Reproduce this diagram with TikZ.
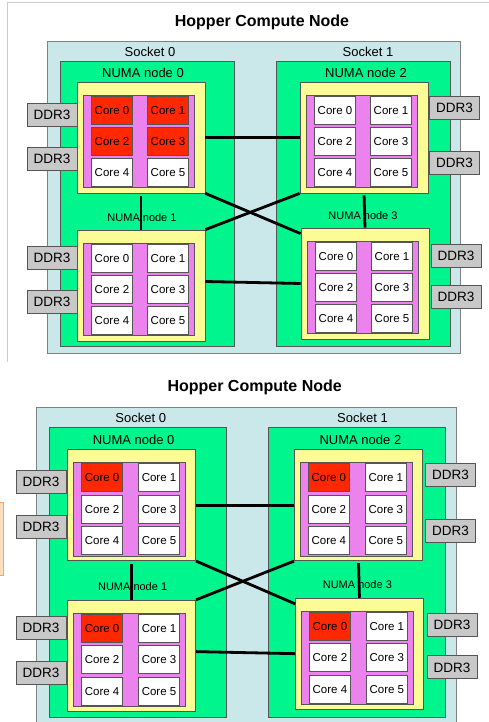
\documentclass[tikz,border=0pt]{standalone}
\usepackage{fontspec}
\setmainfont{Liberation Sans}

\definecolor{socketblue}{RGB}{202,231,234}
\definecolor{numagreen}{RGB}{0,246,140}
\definecolor{chipyellow}{RGB}{252,252,150}
\definecolor{corepink}{RGB}{236,130,238}
\definecolor{corered}{RGB}{255,40,0}
\definecolor{ddrgray}{RGB}{200,200,200}
\definecolor{edgegray}{RGB}{85,85,85}

\tikzset{
  box/.style={draw=edgegray, line width=0.8pt},
  chip/.style={box, fill=chipyellow, minimum width=128pt, minimum height=111pt, inner sep=0pt},
  core/.style={draw=edgegray, line width=0.7pt, minimum width=41pt, minimum height=28pt,
    inner sep=0pt, font=\fontsize{11.5}{13}\selectfont},
  ddr/.style={box, fill=ddrgray, minimum width=50pt, minimum height=23pt, inner sep=0pt,
    font=\fontsize{13.5}{15}\selectfont},
  lbl/.style={font=\fontsize{13}{15}\selectfont},
  small lbl/.style={font=\fontsize{11}{13}\selectfont},
  link/.style={line width=2.8pt},
}

% #1 = red cores in NUMA node 0, #2 = red cores in the other NUMA nodes
\newcommand{\hopperdiagram}[2]{%
  \node[font=\bfseries\fontsize{16}{19}\selectfont] (title) at (215,-19) {Hopper Compute Node};
  \draw[box, draw=gray, fill=socketblue] (0,0) rectangle (413,312);
  \node[lbl] (s0) at (103,11) {Socket 0};
  \node[lbl] (s1) at (321,11) {Socket 1};
  \draw[box, fill=numagreen] (13,20) rectangle (187,305);
  \draw[box, fill=numagreen] (229,20) rectangle (403,305);
  \node[lbl] (l0) at (96,32) {NUMA node 0};
  \node[lbl] (l2) at (319,32) {NUMA node 2};
  \node[small lbl] (l1) at (95,177) {NUMA node 1};
  \node[small lbl] (l3) at (316,175) {NUMA node 3};
  % chips with six cores each
  \foreach \nx/\ny/\nn/\hot in {30/41/0/#1, 253/41/2/#2, 30/189/1/#2, 254/187/3/#2} {
    \node[chip] (n\nn) at ({\nx+64},{\ny+55.5}) {};
    \draw[fill=corepink, draw=edgegray, line width=0.6pt] ({\nx+6.5},{\ny+13.5}) rectangle ({\nx+117},{\ny+105.5});
    \foreach \c/\cx/\cy in {0/35/28.5, 1/91/28.5, 2/35/59.5, 3/91/59.5, 4/35/90.5, 5/91/90.5} {
      \ifnum\c<\hot\relax\def\corefill{corered}\else\def\corefill{white}\fi
      \node[core, fill=\corefill] (n\nn c\c) at ({\nx+\cx},{\ny+\cy}) {Core \c};
    }
  }
  % memory
  \node[ddr] (d0a) at (5,73.5) {DDR3};
  \node[ddr] (d0b) at (5,117.5) {DDR3};
  \node[ddr] (d1a) at (5,217) {DDR3};
  \node[ddr] (d1b) at (5,261) {DDR3};
  \node[ddr] (d2a) at (407.5,67) {DDR3};
  \node[ddr] (d2b) at (407.5,122) {DDR3};
  \node[ddr] (d3a) at (409,214.5) {DDR3};
  \node[ddr] (d3b) at (409,256) {DDR3};
  % links
  \draw[link] (n0.east) -- (n2.west);
  \draw[link] ([yshift=4pt]n1.east) -- (n3.west);
  \draw[link, shorten <=3pt] (n0.south) -- (n1.north);
  \draw[link, shorten <=2pt] (n2.south) -- (n3.north);
  \draw[link] (n0.south east) -- ([yshift=-6pt]n3.north west);
  \draw[link] (n1.north east) -- (n2.south west);
}

\begin{document}
\begin{tikzpicture}[x=1pt, y=-1pt]
  \useasboundingbox (0,0) rectangle (489,722);
  \clip (0,0) rectangle (489,722);
  \draw[black!20, line width=1pt] (489,3) -- (7,3) -- (7,362);
  \draw[draw=orange!70, fill=orange!25] (-1,502) rectangle (3,575);

  \begin{scope}[shift={(47,41)}, name prefix=top-]
    \hopperdiagram{4}{0}
  \end{scope}

  \begin{scope}[shift={(36,407)}, scale=1.017, name prefix=bot-]
    \hopperdiagram{1}{1}
  \end{scope}
\end{tikzpicture}
\end{document}
